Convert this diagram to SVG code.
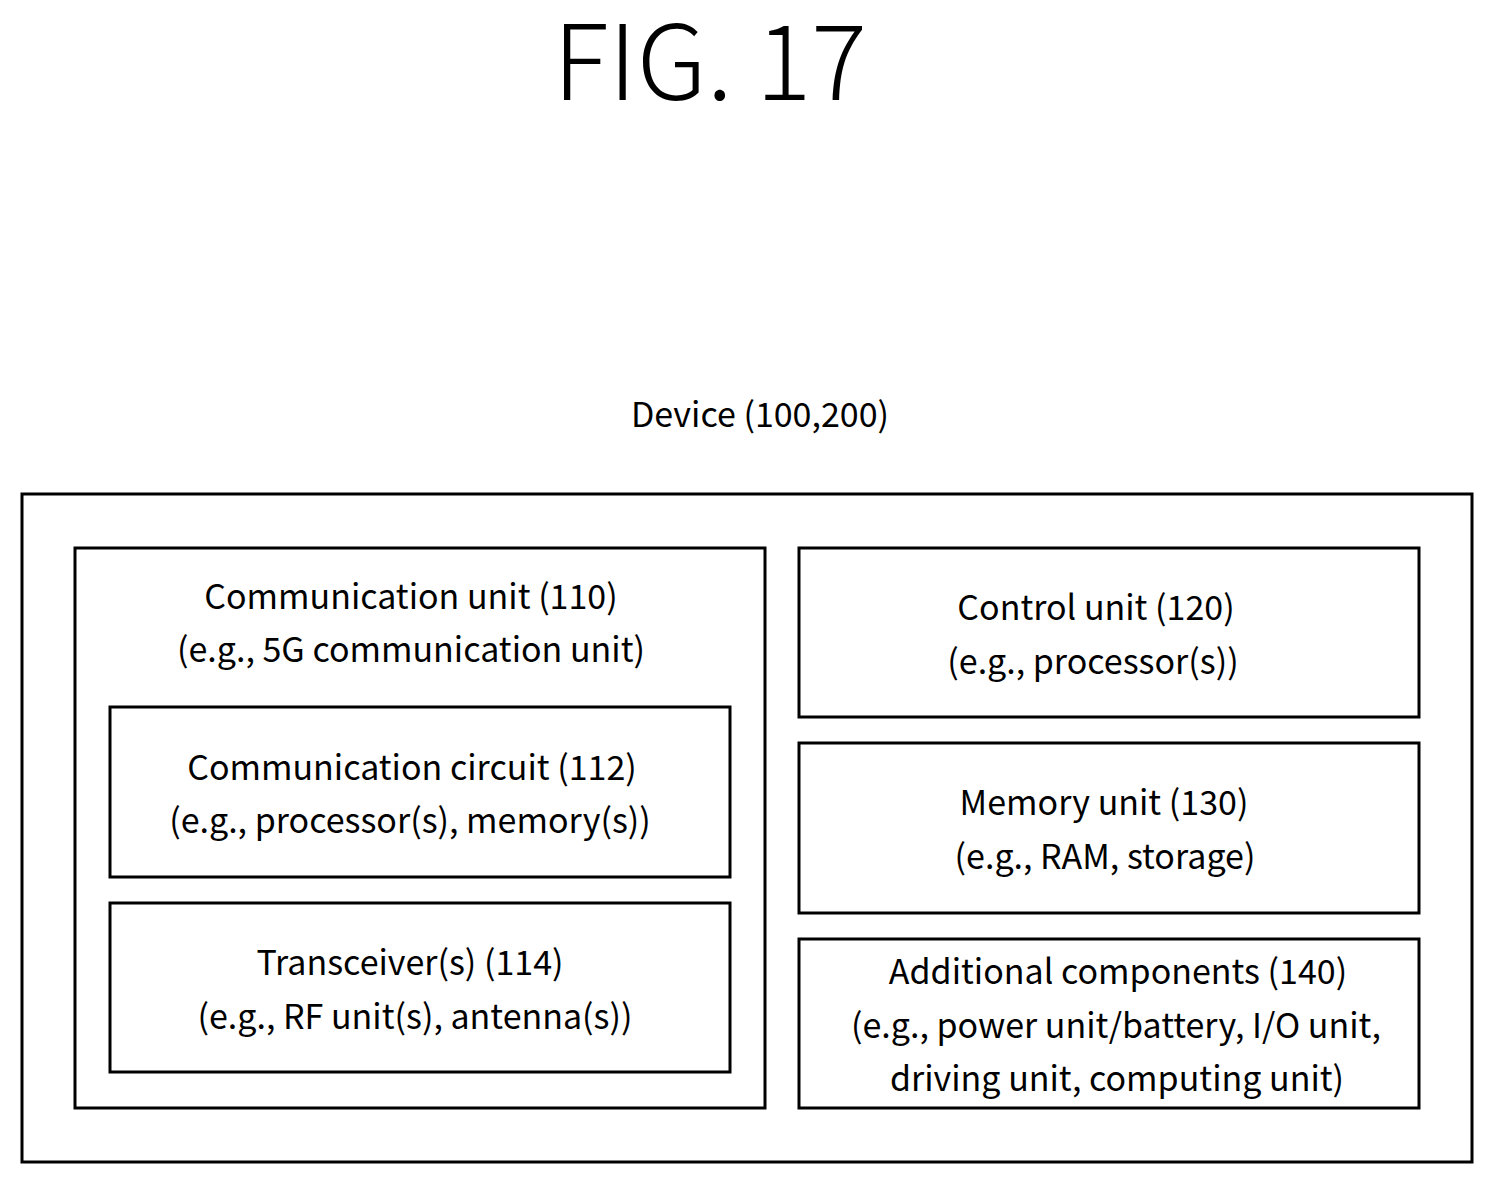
<svg xmlns="http://www.w3.org/2000/svg" width="1494" height="1184" viewBox="0 0 1494 1184">
<style>
rect{fill:#fff;stroke:#000;stroke-width:3}
text{font-family:"Noto Sans CJK KR","Noto Sans",sans-serif;font-size:34px;text-anchor:middle;fill:#000}
</style>
<rect x="0" y="0" width="1494" height="1184" style="stroke:none"/>
<text x="710" y="100" style="font-size:104px;font-weight:300">FIG. 17</text>
<text x="760" y="427">Device (100,200)</text>
<g id="device"><rect x="22" y="494" width="1450" height="668"/></g>
<g id="comm_unit"><rect x="75" y="548" width="690" height="560"/>
<text x="411" y="609">Communication unit (110)</text>
<text x="411" y="662">(e.g., 5G communication unit)</text></g>
<g id="comm_circuit"><rect x="110" y="707" width="620" height="170"/>
<text x="412" y="780">Communication circuit (112)</text>
<text x="410" y="833">(e.g., processor(s), memory(s))</text></g>
<g id="transceiver"><rect x="110" y="903" width="620" height="169"/>
<text x="410" y="975">Transceiver(s) (114)</text>
<text x="415" y="1029">(e.g., RF unit(s), antenna(s))</text></g>
<g id="control"><rect x="799" y="548" width="620" height="169"/>
<text x="1096" y="620">Control unit (120)</text>
<text x="1093" y="674">(e.g., processor(s))</text></g>
<g id="memory"><rect x="799" y="743" width="620" height="170"/>
<text x="1104" y="815">Memory unit (130)</text>
<text x="1105" y="869">(e.g., RAM, storage)</text></g>
<g id="additional"><rect x="799" y="939" width="620" height="169"/>
<text x="1118" y="984">Additional components (140)</text>
<text x="1116" y="1038">(e.g., power unit/battery, I/O unit,</text>
<text x="1117" y="1091">driving unit, computing unit)</text></g>
<g id="connectors"></g>
</svg>
